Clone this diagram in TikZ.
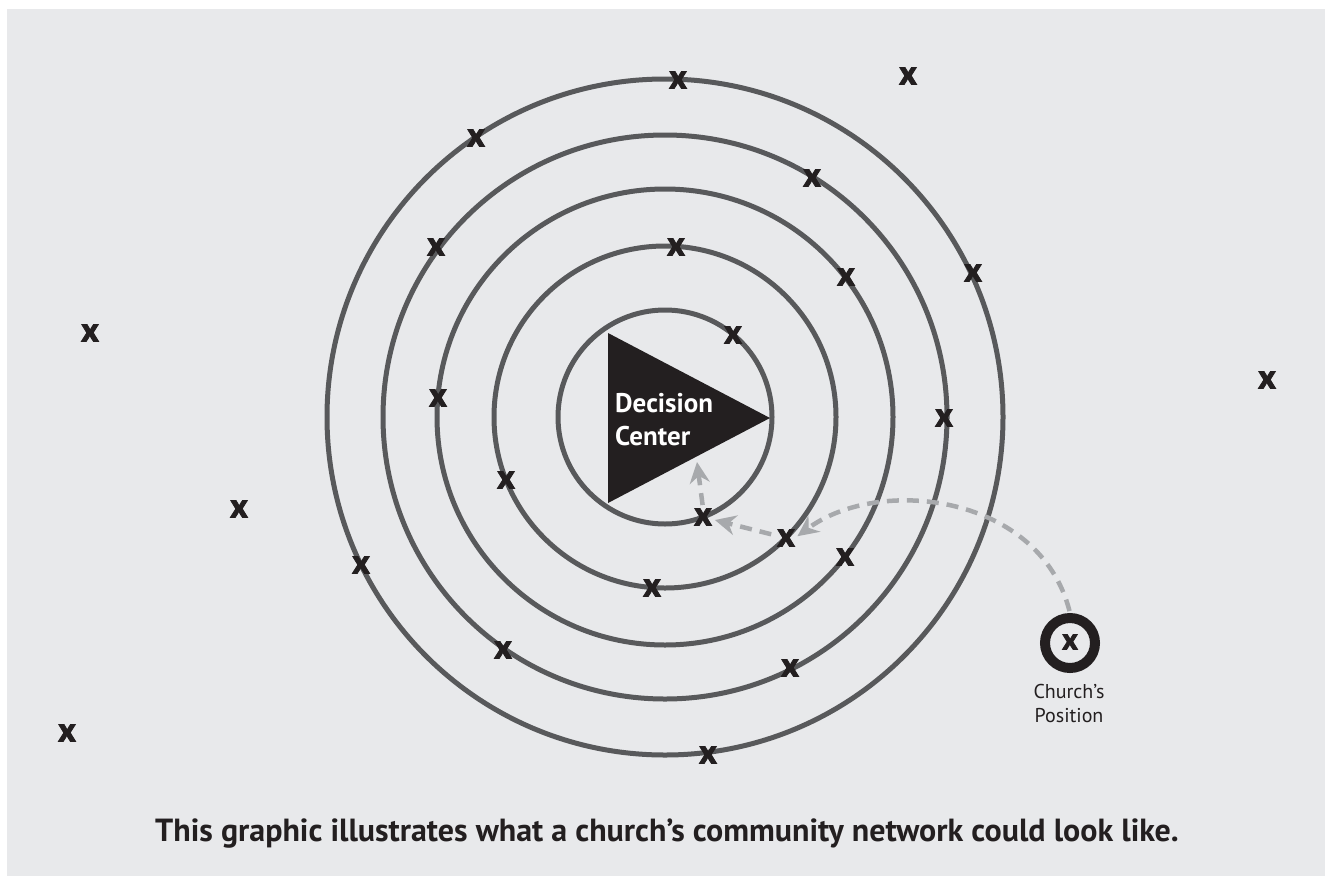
\documentclass[tikz,border=0pt]{standalone}
\usepackage{fontspec}
\setmainfont{PT Sans}
\newfontfamily\heavyx[FakeBold=2.5]{PT Sans Bold}
\usetikzlibrary{arrows.meta}
\definecolor{bggray}{HTML}{E8E9EB}
\definecolor{ringgray}{HTML}{58595B}
\definecolor{inkblack}{HTML}{231F20}
\definecolor{arrowgray}{HTML}{A7A9AC}
\tikzset{
  ring/.style={draw=ringgray, line width=5pt},
  xmark/.style={inner sep=0pt, outer sep=0pt, text=inkblack, font=\fontsize{34}{34}\heavyx, minimum size=18pt},
  flow/.style={draw=arrowgray, line width=4.5pt, dash pattern=on 12pt off 8pt, -{Stealth[length=21pt,width=20pt,inset=7pt]}},
}
\begin{document}
\begin{tikzpicture}[x=1pt,y=-1pt]
\useasboundingbox (0,0) rectangle (1325,876);
\fill[white] (0,0) rectangle (1325,876);
\fill[bggray] (7,9) rectangle (1325,876);
% rings
\coordinate (c) at (665,417);
\draw[ring] (c) circle[radius=338];
\draw[ring] (c) circle[radius=282];
\draw[ring] (c) circle[radius=228];
\draw[ring] (c) circle[radius=171];
\draw[ring] (c) circle[radius=107];
% decision center
\fill[inkblack] (608,333) -- (770,418) -- (608,503) -- cycle;
\node[anchor=base west, text=white, font=\fontsize{27}{27}\selectfont\bfseries, inner sep=0pt] (dc1) at (615,412) {Decision};
\node[anchor=base west, text=white, font=\fontsize{27}{27}\selectfont\bfseries, inner sep=0pt] (dc2) at (615,445) {Center};
% x marks
\node[xmark] (x1) at (678,80) {x};
\node[xmark] (x2) at (908,76) {x};
\node[xmark] (x3) at (476,138) {x};
\node[xmark] (x4) at (812,178) {x};
\node[xmark] (x5) at (436,247) {x};
\node[xmark] (x6) at (676,247) {x};
\node[xmark] (x7) at (846,277) {x};
\node[xmark] (x8) at (973,273) {x};
\node[xmark] (x9) at (90,333) {x};
\node[xmark] (x10) at (733,335) {x};
\node[xmark] (x11) at (1267,380) {x};
\node[xmark] (x12) at (438,398) {x};
\node[xmark] (x13) at (944,418) {x};
\node[xmark] (x14) at (506,480) {x};
\node[xmark] (x15) at (239,509) {x};
\node[xmark] (x16) at (703,517) {x};
\node[xmark] (x17) at (786,538) {x};
\node[xmark] (x18) at (845,557) {x};
\node[xmark] (x19) at (361,565) {x};
\node[xmark] (x20) at (652,588) {x};
\node[xmark] (x21) at (503,650) {x};
\node[xmark] (x22) at (790,668) {x};
\node[xmark] (x23) at (67,733) {x};
\node[xmark] (x24) at (708,755) {x};
% church
\node[circle, draw=inkblack, line width=10pt, minimum size=50pt, inner sep=0pt] (church) at (1070,643) {};
\node[xmark, font=\fontsize{30}{30}\heavyx] (xc) at (1070,642) {x};
\node[anchor=base, inner sep=0pt, text=inkblack, font=\fontsize{20}{20}\selectfont] (cl1) at (1069,698) {Church’s};
\node[anchor=base, inner sep=0pt, text=inkblack, font=\fontsize{20}{20}\selectfont] (cl2) at (1069,722) {Position};
% arrows
\coordinate (tip3) at (697,462);
\draw[flow, shorten <=2pt, shorten >=3pt] (church.north) .. controls (1040,495) and (880,475) .. (x17.east);
\draw[flow, shorten <=6pt, shorten >=3pt] (x17) -- (x16);
\draw[flow, shorten <=3pt] (x16.north) -- (tip3);
% caption
\node[anchor=base, inner sep=0pt, text=inkblack, font=\fontsize{32}{32}\selectfont\bfseries] (cap) at (667,841) {This graphic illustrates what a church’s community network could look like.};
\end{tikzpicture}
\end{document}
